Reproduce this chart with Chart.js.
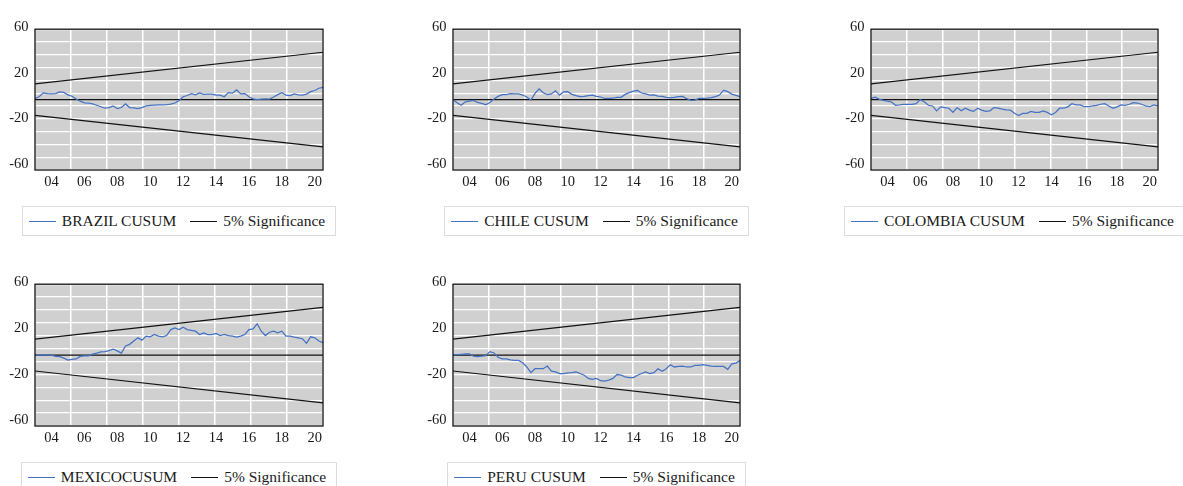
<!DOCTYPE html>
<html>
<head>
<meta charset="utf-8">
<title>CUSUM tests</title>
<script src="https://cdn.jsdelivr.net/npm/chart.js@4/dist/chart.umd.min.js"></script>
<style>
  html, body { margin: 0; padding: 0; background: #fff; }
  body { width: 1183px; height: 486px; position: relative; overflow: hidden;
         font-family: 'Liberation Serif', 'Times New Roman', serif; }
  .panel { position: absolute; }
  .panel canvas { position: absolute; left: 0; top: 0; }
  .legend { position: absolute; display: flex; justify-content: center; }
  .legend-box { display: flex; align-items: center; border: 1px solid #dcdcdc; height: 28px;
                padding: 0 10px 0 6px; white-space: nowrap; font-size: 15.5px; color: #1a1a1a;
                font-family: 'Liberation Serif', 'Times New Roman', serif; }
  .legend-item { display: flex; align-items: center; }
  .legend-item + .legend-item { margin-left: 14px; }
  .swatch { display: inline-block; width: 27px; height: 0; border-top: 1px solid; margin-right: 6px; }
</style>
</head>
<body>
<script>
// Quarterly sample, 2003Q1 - 2020Q3
const quarters = [
  "2003Q1","2003Q2","2003Q3","2003Q4","2004Q1","2004Q2","2004Q3","2004Q4",
  "2005Q1","2005Q2","2005Q3","2005Q4","2006Q1","2006Q2","2006Q3","2006Q4",
  "2007Q1","2007Q2","2007Q3","2007Q4","2008Q1","2008Q2","2008Q3","2008Q4",
  "2009Q1","2009Q2","2009Q3","2009Q4","2010Q1","2010Q2","2010Q3","2010Q4",
  "2011Q1","2011Q2","2011Q3","2011Q4","2012Q1","2012Q2","2012Q3","2012Q4",
  "2013Q1","2013Q2","2013Q3","2013Q4","2014Q1","2014Q2","2014Q3","2014Q4",
  "2015Q1","2015Q2","2015Q3","2015Q4","2016Q1","2016Q2","2016Q3","2016Q4",
  "2017Q1","2017Q2","2017Q3","2017Q4","2018Q1","2018Q2","2018Q3","2018Q4",
  "2019Q1","2019Q2","2019Q3","2019Q4","2020Q1","2020Q2","2020Q3"
];

// CUSUM statistics
const brazilCusum = [
  1, 2.5, 5.9, 5.3, 5, 5.2, 6.7, 6.3, 4.2, 3,
  0.5, -1.4, -2.8, -3, -3.8, -5, -6.3, -7.6, -7, -5.6,
  -8, -7, -3.8, -7, -7.2, -8, -7, -5.6, -5, -4.8,
  -4.7, -4.7, -4.4, -4, -3, -1, 2.5, 3.6, 5.2, 4.2,
  5.8, 4.6, 4.8, 4.8, 3.9, 3.9, 2.5, 6.2, 5.7, 8.6,
  5, 5.3, 2.5, 0.6, -0.1, 0.5, 0.7, 0.4, 2.3, 4.4,
  6, 4, 3.5, 5, 4.2, 4, 4.8, 7, 8, 10,
  10.7
];
const chileCusum = [
  0, -2.7, -5, -2, -1.3, -0.7, -2.5, -3.3, -4.5, -2.5,
  0.5, 2.8, 4.3, 4.4, 5.2, 5, 5, 4, 2.3, -0.5,
  5.5, 9.5, 6, 4.5, 5, 7.8, 4, 6.8, 7, 4.6,
  3.5, 2.7, 2.8, 3.5, 4, 2.8, 2.3, 1, 1, 1.2,
  2, 2, 4.6, 6.2, 7.5, 8, 5.8, 5, 3.9, 4.2,
  3, 2.8, 2, 1.6, 2, 2.7, 2.8, 0.8, -0.7, -0.5,
  1, 1, 1.2, 1.8, 2.7, 4, 8.3, 7, 4.8, 3.8,
  2.7
];
const colombiaCusum = [
  1, 2.1, 0.4, -0.7, -1.3, -2.1, -5, -4.7, -4.1, -4.1,
  -4.1, -3.6, 0, -1.9, -5, -5.6, -9.9, -6.4, -7, -7.6,
  -11.3, -7, -9.9, -7.6, -9.3, -10.4, -7.6, -9.3, -10.4, -9.9,
  -7, -7.6, -8.4, -9, -9.3, -12.1, -14.1, -12.1, -12.1, -10.4,
  -11.3, -11.3, -9.9, -11.3, -13.3, -11.3, -7.6, -7.6, -6.4, -3.6,
  -4.7, -4.7, -6.1, -6.1, -5.6, -5, -4.1, -3.6, -5.6, -7.6,
  -6.4, -4.7, -5, -4.1, -2.7, -3, -4.1, -5.6, -6.1, -4.7,
  -5.6
];
const mexicoCusum = [
  0, 0.3, 0, 0, 0, -1.1, -1.4, -2.6, -4.3, -3.7,
  -3.4, -1.1, -0.6, -0.6, 0.9, 1.7, 2.9, 3.1, 4, 5.1,
  3.7, 1.7, 8, 9.4, 12.3, 15.1, 13.1, 16.6, 16, 18,
  16.6, 16, 17.1, 22.3, 23.7, 22.3, 24.3, 22.3, 21.7, 20.9,
  18, 19.4, 18, 18, 18.9, 17.1, 18, 17.1, 16.6, 15.7,
  16.6, 18, 22.3, 22.9, 27.4, 20.9, 17.1, 20, 20.9, 19.4,
  20.9, 16.6, 16.6, 15.7, 15.1, 14.3, 10.3, 16, 15.1, 12.3,
  10.9
];
const peruCusum = [
  0.4, 0.4, 0.7, 1, 1, -1, -1.3, -1, -0.4, 3,
  1.9, -1.9, -3.3, -3.3, -4.1, -4.7, -4.7, -6.7, -10.4, -15.3,
  -11.9, -11.9, -11.9, -9.6, -14.1, -14.7, -16.1, -16.1, -15.6, -15.3,
  -14.7, -16.1, -17.6, -20.4, -21.3, -20.4, -22.4, -22.7, -21.9, -20.4,
  -17, -17.6, -19, -19.6, -19.6, -17.6, -16.1, -14.7, -16.1, -15.3,
  -11.9, -14.1, -11.9, -8.4, -10.4, -9.9, -9.6, -10.4, -10.4, -9,
  -9, -8.4, -9, -9.6, -9.9, -9.9, -9.9, -12.4, -7.6, -7,
  -4.7
];

// 5% significance bounds (straight lines from first to last quarter) and the zero line
const boundDates = ["2003Q1", "2020Q3"];
const upperBound = [13.9, 41.7];
const lowerBound = [-13.9, -41.7];
const zeroLine = [0, 0];

// Axis ticks
const xTickYears = [2004, 2006, 2008, 2010, 2012, 2014, 2016, 2018, 2020];
const xTickLabels = ["04", "06", "08", "10", "12", "14", "16", "18", "20"];
const yTickValues = [60, 20, -20, -60];

// Panel titles and series
const countries = ["BRAZIL CUSUM", "CHILE CUSUM", "COLOMBIA CUSUM", "MEXICOCUSUM", "PERU CUSUM"];
const countrySeries = [brazilCusum, chileCusum, colombiaCusum, mexicoCusum, peruCusum];
const boundLabel = "5% Significance";

// Plot-area placement of each panel on the page
const panelBoxes = [
  { left: 35,  top: 26,  width: 288, height: 144 },
  { left: 453, top: 26,  width: 287, height: 144 },
  { left: 871, top: 26,  width: 287, height: 144 },
  { left: 35,  top: 281, width: 288, height: 145 },
  { left: 453, top: 281, width: 287, height: 145 }
];

const AXIS_W = 35, PAD_TOP = 12, PAD_RIGHT = 14, AXIS_H = 26;
const cusumColor = '#4472c4';
const boundColor = '#111111';
const plotFill = '#d0d0d0';
const tickFont = { family: "'Liberation Serif', 'Times New Roman', serif", size: 14.5 };

function quarterToYear(q) {
  return parseInt(q.slice(0, 4), 10) + (parseInt(q.slice(5), 10) - 1) / 4;
}
function toPoints(dates, values) {
  return values.map((v, i) => ({ x: quarterToYear(dates[i]), y: v }));
}

// Grey plotting field with a dark frame
const plotFrame = {
  id: 'plotFrame',
  beforeDraw(chart) {
    const { ctx, chartArea: a } = chart;
    ctx.save();
    ctx.fillStyle = plotFill;
    ctx.fillRect(a.left, a.top, a.right - a.left, a.bottom - a.top);
    ctx.restore();
  },
  afterDraw(chart) {
    const { ctx, chartArea: a } = chart;
    ctx.save();
    ctx.strokeStyle = '#111';
    ctx.lineWidth = 1.3;
    ctx.strokeRect(a.left, a.top, a.right - a.left, a.bottom - a.top);
    ctx.restore();
  }
};

function buildLegend(chart, panelBox) {
  const a = chart.chartArea;
  const holder = document.createElement('div');
  holder.className = 'legend';
  holder.style.left = panelBox.left + 'px';
  holder.style.width = (a.right - a.left) + 'px';
  holder.style.top = (panelBox.top + panelBox.height + 36) + 'px';
  const box = document.createElement('div');
  box.className = 'legend-box';
  chart.data.datasets.filter(ds => ds.inLegend).forEach(ds => {
    const item = document.createElement('span');
    item.className = 'legend-item';
    const sw = document.createElement('span');
    sw.className = 'swatch';
    sw.style.borderTopColor = ds.borderColor;
    const txt = document.createElement('span');
    txt.textContent = ds.label;
    item.appendChild(sw);
    item.appendChild(txt);
    box.appendChild(item);
  });
  holder.appendChild(box);
  document.body.appendChild(holder);
}

countries.forEach((name, idx) => {
  const pb = panelBoxes[idx];
  const panel = document.createElement('div');
  panel.className = 'panel';
  const w = AXIS_W + pb.width + PAD_RIGHT;
  const h = PAD_TOP + pb.height + AXIS_H;
  panel.style.left = (pb.left - AXIS_W) + 'px';
  panel.style.top = (pb.top - PAD_TOP) + 'px';
  panel.style.width = w + 'px';
  panel.style.height = h + 'px';
  const canvas = document.createElement('canvas');
  canvas.width = w;
  canvas.height = h;
  canvas.style.width = w + 'px';
  canvas.style.height = h + 'px';
  panel.appendChild(canvas);
  document.body.appendChild(panel);

  const chart = new Chart(canvas, {
    type: 'line',
    data: {
      datasets: [
        { label: name, data: toPoints(quarters, countrySeries[idx]), inLegend: true,
          borderColor: cusumColor, borderWidth: 1.25, pointRadius: 0, tension: 0,
          xAxisID: 'x', yAxisID: 'y' },
        { label: boundLabel, data: toPoints(boundDates, upperBound), inLegend: true,
          borderColor: boundColor, borderWidth: 1.2, pointRadius: 0,
          xAxisID: 'x', yAxisID: 'y' },
        { label: boundLabel, data: toPoints(boundDates, lowerBound),
          borderColor: boundColor, borderWidth: 1.2, pointRadius: 0,
          xAxisID: 'x', yAxisID: 'y' },
        { label: 'zero', data: toPoints(boundDates, zeroLine),
          borderColor: boundColor, borderWidth: 1.2, pointRadius: 0,
          xAxisID: 'x', yAxisID: 'y' }
      ]
    },
    options: {
      responsive: false,
      animation: false,
      devicePixelRatio: 1,
      layout: { padding: { top: PAD_TOP, right: PAD_RIGHT, bottom: 0, left: 0 } },
      plugins: { legend: { display: false }, tooltip: { enabled: false } },
      scales: {
        x: {
          type: 'linear', position: 'bottom',
          min: quarterToYear(quarters[0]), max: quarterToYear(quarters[quarters.length - 1]),
          afterBuildTicks: s => { s.ticks = xTickYears.map(v => ({ value: v })); },
          afterFit: s => { s.height = AXIS_H; },
          ticks: { autoSkip: false, maxRotation: 0, padding: 3, color: '#1a1a1a', font: tickFont,
                   callback: v => xTickLabels[xTickYears.indexOf(v)] },
          grid: { display: false, drawTicks: false },
          border: { display: false }
        },
        xGrid: {
          type: 'linear', position: 'bottom', min: 0, max: 8,
          afterFit: s => { s.height = 0; },
          ticks: { display: false, stepSize: 1 },
          grid: { color: '#ffffff', lineWidth: 1.5, drawTicks: false },
          border: { display: false }
        },
        y: {
          type: 'linear', position: 'left', min: -62, max: 62,
          afterBuildTicks: s => { s.ticks = yTickValues.map(v => ({ value: v })); },
          afterFit: s => { s.width = AXIS_W; },
          ticks: { padding: 6.5, labelOffset: -4, color: '#1a1a1a', font: tickFont },
          grid: { display: false, drawTicks: false },
          border: { display: false }
        },
        yGrid: {
          type: 'linear', position: 'left', min: 0, max: 11,
          afterFit: s => { s.width = 0; },
          ticks: { display: false, stepSize: 1 },
          grid: { color: '#ffffff', lineWidth: 1.3, drawTicks: false },
          border: { display: false }
        }
      }
    },
    plugins: [plotFrame]
  });
  buildLegend(chart, pb);
});
</script>
</body>
</html>
